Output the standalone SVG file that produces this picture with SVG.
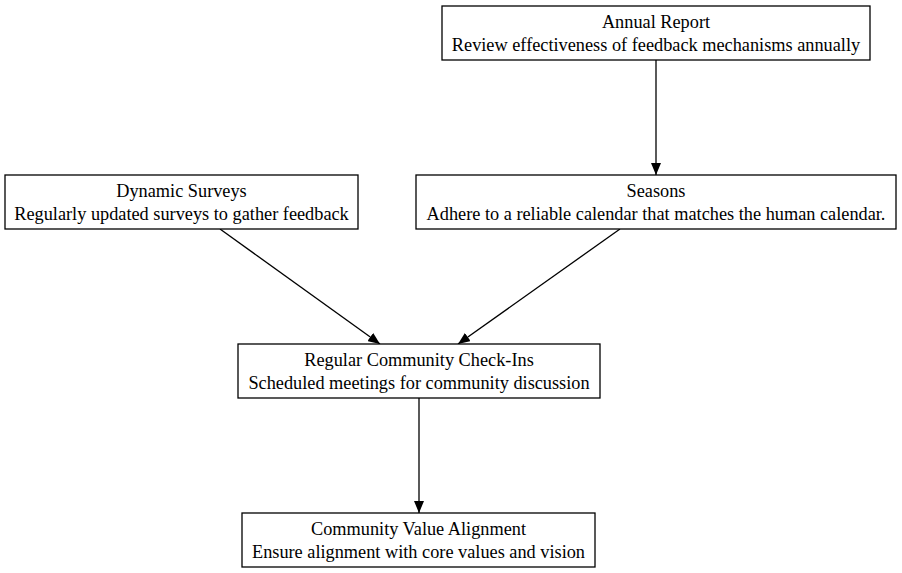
<svg xmlns="http://www.w3.org/2000/svg" width="902" height="573" viewBox="0 0 902 573">
<style>
.n rect{fill:#fff;stroke:#000;stroke-width:1.3}
.n text{font-family:"Liberation Serif","Times New Roman",serif;font-size:18.3px;text-anchor:middle;fill:#000}
.e{stroke:#000;stroke-width:1.3;fill:none;marker-end:url(#a)}
</style>
<defs>
<marker id="a" markerWidth="12" markerHeight="10" refX="12" refY="5" orient="auto" markerUnits="userSpaceOnUse">
<path d="M0,0 L12,5 L0,10 Z" fill="#000"/>
</marker>
</defs>
<rect width="902" height="573" fill="#fff"/>
<g id="edges">
<path class="e" d="M656,60 L656,175"/>
<path class="e" d="M220,229 L380,344"/>
<path class="e" d="M620,229 L458,344"/>
<path class="e" d="M419,398 L419,513"/>
</g>
<g id="annual" class="n"><rect x="442" y="6" width="428" height="54"/><text x="656" y="28">Annual Report</text><text x="656" y="51">Review effectiveness of feedback mechanisms annually</text></g>
<g id="surveys" class="n"><rect x="5" y="175" width="353" height="54"/><text x="181.5" y="197">Dynamic Surveys</text><text x="181.5" y="220">Regularly updated surveys to gather feedback</text></g>
<g id="seasons" class="n"><rect x="416" y="175" width="480" height="54"/><text x="656" y="197">Seasons</text><text x="656" y="220">Adhere to a reliable calendar that matches the human calendar.</text></g>
<g id="checkins" class="n"><rect x="238" y="344" width="362" height="54"/><text x="419" y="366">Regular Community Check-Ins</text><text x="419" y="389">Scheduled meetings for community discussion</text></g>
<g id="alignment" class="n"><rect x="242" y="513" width="353" height="54"/><text x="418.5" y="535">Community Value Alignment</text><text x="418.5" y="558">Ensure alignment with core values and vision</text></g>
</svg>
